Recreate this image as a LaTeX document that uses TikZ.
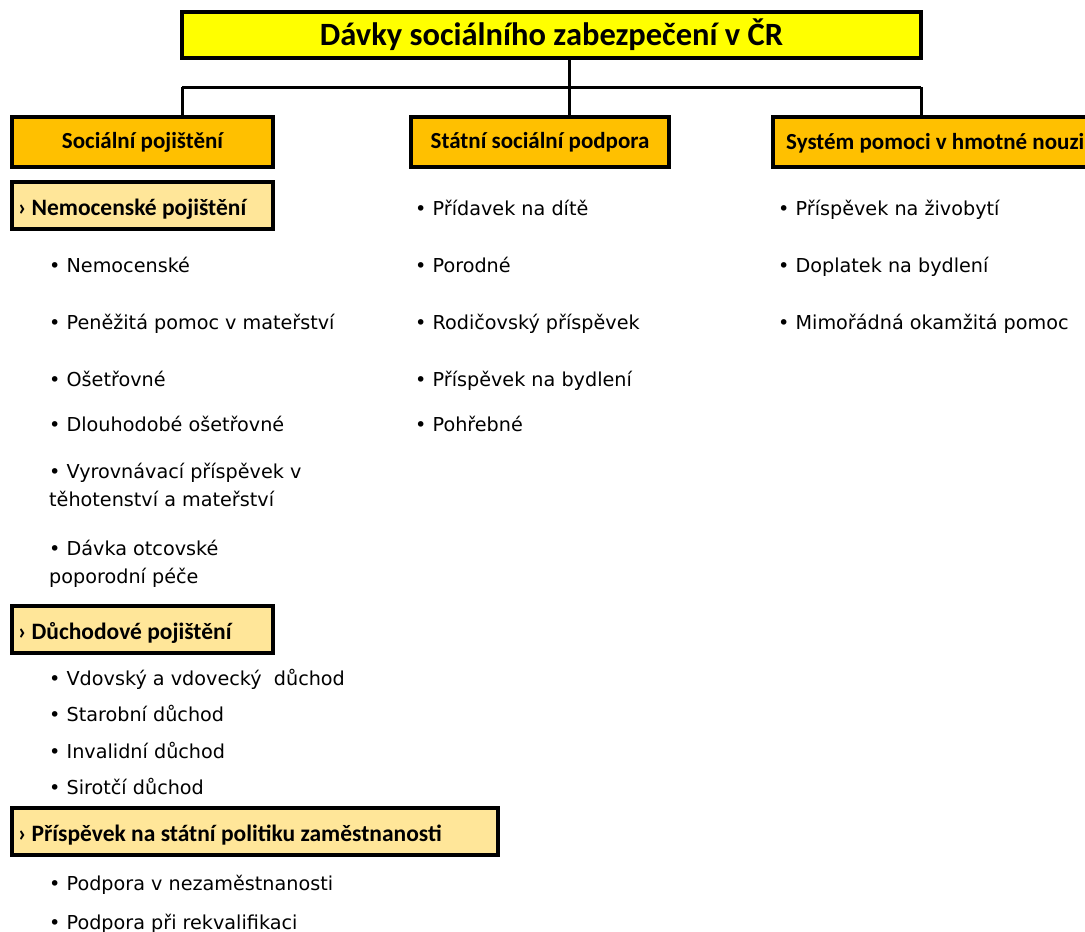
\documentclass[tikz,border=0pt]{standalone}
\usepackage{fontspec}
\setmainfont{Carlito}
\newfontfamily\bodyfont{DejaVu Sans}
\definecolor{ttlyellow}{HTML}{FFFF00}
\definecolor{catorange}{HTML}{FFC000}
\definecolor{sublight}{HTML}{FFE699}
\begin{document}
\begin{tikzpicture}[x=1pt,y=-1pt,
  boxbase/.style={draw=black,line width=3.2pt,anchor=north west,inner sep=0pt,outer sep=0pt},
  titlebox/.style={boxbase,fill=ttlyellow,minimum width=739pt,minimum height=46pt,font=\bfseries\fontsize{32.5}{36}\selectfont},
  catbox/.style={boxbase,fill=catorange,minimum height=50pt,font=\bfseries\fontsize{23}{26}\selectfont},
  subbox/.style={boxbase,fill=sublight,minimum height=47pt},
  subtext/.style={anchor=base west,inner sep=0pt,font=\bfseries\fontsize{23.5}{26}\selectfont},
  item/.style={anchor=base west,inner sep=0pt,font=\bodyfont\fontsize{19.2}{22}\selectfont},
  link/.style={draw=black,line width=3pt}]
\useasboundingbox (0,0) rectangle (1085,932);
\clip (0,0) rectangle (1085,932);
% title
\node[titlebox] (title) at (182,12) {Dávky sociálního zabezpečení v ČR};
% categories
\node[catbox,minimum width=261pt] (soc) at (12,117) {Sociální pojištění};
\node[catbox,minimum width=258pt] (state) at (411,117) {Státní sociální podpora};
\node[catbox,minimum width=330pt] (sys) at (773,117) {};
\node[anchor=base west,inner sep=0pt,font=\bfseries\fontsize{23}{26}\selectfont] (systxt) at (786,149) {Systém pomoci v hmotné nouzi};
% connectors
\coordinate (j) at (569,87);
\coordinate (jl) at (title.south west |- j);
\coordinate (jr) at (title.south east |- j);
\draw[link] (j |- title.south) -- (j);
\draw[link] (jl) -- (jr);
\draw[link] (jl) -- (jl |- soc.north);
\draw[link] (j) -- (j |- state.north);
\draw[link] (jr) -- (jr |- sys.north);
% sub boxes
\node[subbox,minimum width=261pt] (nem) at (12,182) {};
\node[subtext] (nemt) at (18,215) {› Nemocenské pojištění};
\node[subbox,minimum width=261pt] (duch) at (12,606) {};
\node[subtext] (ducht) at (18,639) {› Důchodové pojištění};
\node[subbox,minimum width=486pt] (zam) at (12,808) {};
\node[subtext] (zamt) at (18,841) {› Příspěvek na státní politiku zaměstnanosti};
% left items
\node[item] (l1) at (49,272) {• Nemocenské};
\node[item] (l2) at (49,329) {• Peněžitá pomoc v mateřství};
\node[item] (l3) at (49,386) {• Ošetřovné};
\node[item] (l4) at (49,431) {• Dlouhodobé ošetřovné};
\node[item] (l5) at (49,478) {• Vyrovnávací příspěvek v};
\node[item] (l5b) at (49,506) {těhotenství a mateřství};
\node[item] (l6) at (49,555) {• Dávka otcovské};
\node[item] (l6b) at (49,583) {poporodní péče};
\node[item] (l7) at (49,685) {• Vdovský a vdovecký \ důchod};
\node[item] (l8) at (49,721) {• Starobní důchod};
\node[item] (l9) at (49,758) {• Invalidní důchod};
\node[item] (l10) at (49,794) {• Sirotčí důchod};
\node[item] (l11) at (49,890) {• Podpora v nezaměstnanosti};
\node[item] (l12) at (49,929) {• Podpora při rekvalifikaci};
% middle items
\node[item] (m1) at (415,215) {• Přídavek na dítě};
\node[item] (m2) at (415,272) {• Porodné};
\node[item] (m3) at (415,329) {• Rodičovský příspěvek};
\node[item] (m4) at (415,386) {• Příspěvek na bydlení};
\node[item] (m5) at (415,431) {• Pohřebné};
% right items
\node[item] (r1) at (778,215) {• Příspěvek na živobytí};
\node[item] (r2) at (778,272) {• Doplatek na bydlení};
\node[item] (r3) at (778,329) {• Mimořádná okamžitá pomoc};
\end{tikzpicture}
\end{document}
